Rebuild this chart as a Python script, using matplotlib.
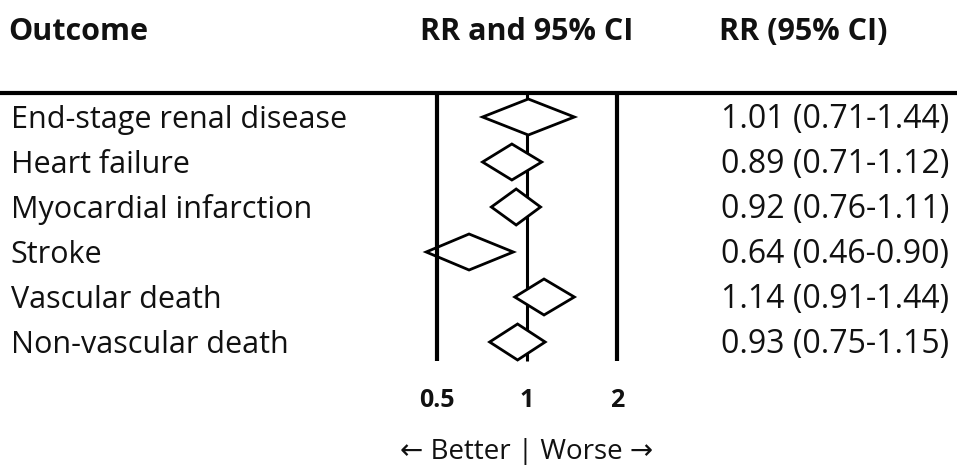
"""Forest plot: relative risk of outcomes with 95% CI."""

import matplotlib.pyplot as plt
import matplotlib.transforms as mtransforms
from matplotlib.patches import Polygon

outcomes = [
    "End-stage renal disease",
    "Heart failure",
    "Myocardial infarction",
    "Stroke",
    "Vascular death",
    "Non-vascular death",
]
rr = [1.01, 0.89, 0.92, 0.64, 1.14, 0.93]
ci_low = [0.71, 0.71, 0.76, 0.46, 0.91, 0.75]
ci_high = [1.44, 1.12, 1.11, 0.90, 1.44, 1.15]
ref_lines = [0.5, 1, 2]
tick_labels = ["0.5", "1", "2"]

plt.rcParams.update({
    "font.family": ["Open Sans", "DejaVu Sans"],
    "font.size": 22,
    "text.color": "#111111",
})

fig = plt.figure(figsize=(9.57, 4.65), dpi=100)
ax = fig.add_axes([0, 0, 1, 1])
ax.set_xscale("log", base=2)
# pixel mapping: x=1 at 527px, one doubling = 90px
ax.set_xlim(2 ** (-527 / 90), 2 ** (430 / 90))
# rows 45px apart, first row centred at 117px
ax.set_ylim((465 - 117) / 45, -117 / 45)
ax.axis("off")

mix = mtransforms.blended_transform_factory(ax.transAxes, ax.transData)
n = len(outcomes)
top, bottom = -0.53, n - 0.58

# reference lines and header rule
ax.axhline(top, color="black", lw=3, zorder=3)
ax.vlines([ref_lines[0], ref_lines[2]], top, bottom, color="black", lw=3, zorder=3)
ax.vlines(ref_lines[1], top, bottom, color="black", lw=2.2, zorder=1)

half_h = 18 / 45
for i in range(n):
    verts = [(ci_low[i], i), (rr[i], i - half_h), (ci_high[i], i), (rr[i], i + half_h)]
    ax.add_patch(Polygon(verts, closed=True, facecolor="white",
                         edgecolor="black", lw=2, joinstyle="miter", zorder=2))
    ax.text(0.011, i + 0.24, outcomes[i], transform=mix, va="baseline", ha="left")
    ax.text(0.753, i + 0.24, f"{rr[i]:.2f} ({ci_low[i]:.2f}-{ci_high[i]:.2f})",
            transform=mix, va="baseline", ha="left", fontsize=23)

# column headers
head_y = -1.96 + 0.25
ax.text(0.009, head_y, "Outcome", transform=mix, va="baseline", fontweight="bold")
ax.text(1.0, head_y, "RR and 95% CI", va="baseline", ha="center", fontweight="bold")
ax.text(0.751, head_y, "RR (95% CI)", transform=mix, va="baseline", fontweight="bold")

# axis tick labels under the plot
for v, lab in zip(ref_lines, tick_labels):
    ax.text(v, 6.45, lab, va="baseline", ha="center", fontsize=18, fontweight="bold")
ax.text(1, 7.6, "\u2190 Better | Worse \u2192", va="baseline", ha="center", fontsize=20)

fig.savefig("out.png", dpi=100)
